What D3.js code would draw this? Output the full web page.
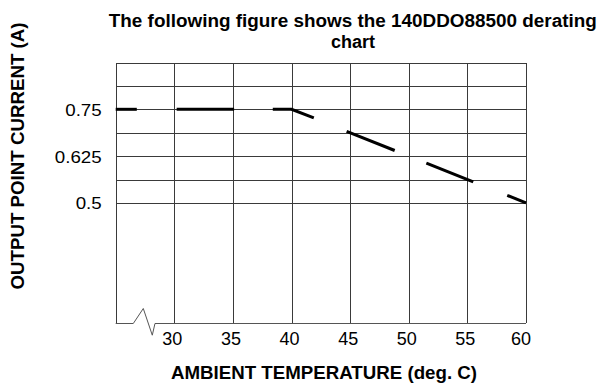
<!DOCTYPE html>
<meta charset="utf-8">
<style>
body { margin: 0; background: #fff; }
text { font-family: "Liberation Sans", Arial, sans-serif; fill: #000; }
.grid { stroke: #3a3a3a; stroke-width: 1px; shape-rendering: crispEdges; }
.frame { fill: none; stroke: #555; stroke-width: 1px; }
.curve { fill: none; stroke: #000; stroke-width: 3px; }
</style>
<body>
<svg id="chart" width="605" height="388"></svg>
<script src="https://d3js.org/d3.v7.min.js"></script>
<script>

// derating curve, drawn as broken pieces like the original
const segTemp = [[25, 26.8], [30.2, 35.1], [38.4, 40, 41.9], [44.7, 48.8], [51.5, 55.5], [58.4, 60]]
const segCurrent = [[0.75, 0.75], [0.75, 0.75], [0.75, 0.75, 0.727], [0.691, 0.64], [0.606, 0.556], [0.52, 0.5]]

const xTicks = [30, 35, 40, 45, 50, 55, 60]
const yGrid = [0.5, 0.5625, 0.625, 0.6875, 0.75, 0.8125, 0.875]
const yLabels = [0.5, 0.625, 0.75]

const svg = d3.select("#chart")

const x = d3.scaleLinear().domain([25, 60]).range([115.7, 526])
const y = d3.scaleLinear().domain([0.1785, 0.875]).range([323.3, 62.5])

const plotBottom = y.range()[0], plotTop = y.range()[1]

// horizontal grid
svg.append("g").selectAll("line")
  .data(yGrid)
  .join("line")
    .attr("class", "grid")
    .attr("x1", x(25)).attr("x2", x(60))
    .attr("y1", d => Math.round(y(d)) + 0.5)
    .attr("y2", d => Math.round(y(d)) + 0.5)

// vertical grid
svg.append("g").selectAll("line")
  .data([25].concat(xTicks))
  .join("line")
    .attr("class", "grid")
    .attr("x1", d => Math.round(x(d)) + 0.5)
    .attr("x2", d => Math.round(x(d)) + 0.5)
    .attr("y1", plotTop).attr("y2", plotBottom)

// bottom axis with the break mark
const bx = x(26.5), by = Math.round(plotBottom) + 0.5
svg.append("path")
  .attr("class", "frame")
  .attr("d", `M${x(25)},${by}H${bx}L${bx + 10},${by - 15}L${bx + 19},${by + 11.7}L${bx + 21.7},${by}H${x(60)}`)

// data pieces
const line = d3.line().x(d => x(d[0])).y(d => y(d[1]))
svg.append("g").selectAll("path")
  .data(segTemp.map((t, i) => t.map((v, j) => [v, segCurrent[i][j]])))
  .join("path")
    .attr("class", "curve")
    .attr("d", line)

function stretch(sel, k) {
  sel.each(function() {
    const w = this.getComputedTextLength()
    d3.select(this).attr("textLength", w * k).attr("lengthAdjust", "spacingAndGlyphs")
  })
}

// y labels
svg.append("g").selectAll("text")
  .data(yLabels)
  .join("text")
    .attr("x", 101.7)
    .attr("y", d => y(d) + 6.5)
    .attr("text-anchor", "end")
    .style("font-size", "16px")
    .text(d => d)
    .call(stretch, 1.17)

// x labels
svg.append("g").selectAll("text")
  .data(xTicks)
  .join("text")
    .attr("x", d => x(d) - (d === 60 ? 5 : 2))
    .attr("y", 344.5)
    .attr("text-anchor", "middle")
    .style("font-size", "18px")
    .text(d => d)

// titles
svg.append("text")
  .attr("x", 352.8).attr("y", 27)
  .attr("text-anchor", "middle")
  .style("font-size", "18px").style("font-weight", "bold")
  .attr("textLength", 488).attr("lengthAdjust", "spacingAndGlyphs")
  .text("The following figure shows the 140DDO88500 derating")
svg.append("text")
  .attr("x", 353).attr("y", 48)
  .attr("text-anchor", "middle")
  .style("font-size", "18px").style("font-weight", "bold")
  .text("chart")

svg.append("text")
  .attr("transform", "translate(24,156) rotate(-90)")
  .attr("text-anchor", "middle")
  .style("font-size", "18px").style("font-weight", "bold")
  .attr("textLength", 267).attr("lengthAdjust", "spacingAndGlyphs")
  .text("OUTPUT POINT CURRENT (A)")

svg.append("text")
  .attr("x", 324).attr("y", 379.3)
  .attr("text-anchor", "middle")
  .style("font-size", "18px").style("font-weight", "bold")
  .attr("textLength", 306).attr("lengthAdjust", "spacingAndGlyphs")
  .text("AMBIENT TEMPERATURE (deg. C)")

</script>
